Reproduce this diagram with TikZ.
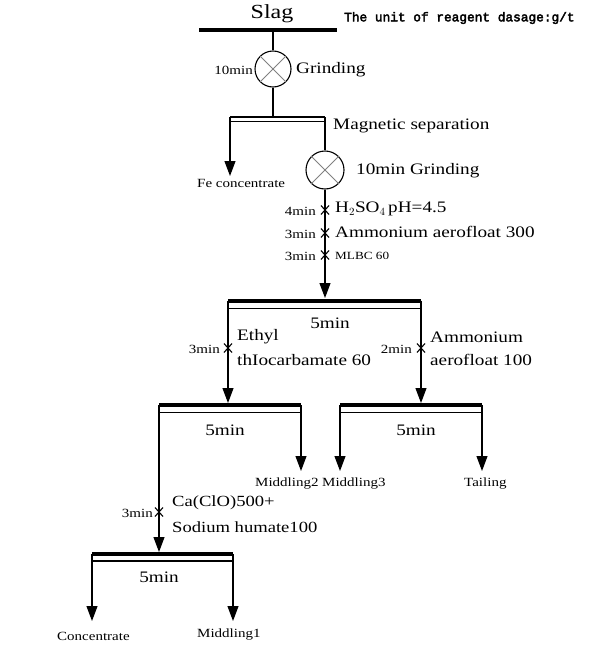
\documentclass[tikz,border=0pt]{standalone}
\usepackage{fontspec}
\setmainfont{Liberation Serif}[FakeStretch=1.2]
\newfontfamily\monob{Liberation Mono}[FakeBold=3]
\usetikzlibrary{arrows.meta}
\tikzset{
  ln/.style={line width=1.1pt},
  bar/.style={line width=4pt},
  arr/.style={line width=1.1pt,-{Triangle[width=11pt,length=15pt]}},
  big/.style={font=\fontsize{16}{18}\selectfont,inner sep=0pt},
  med/.style={font=\fontsize{15.5}{18}\selectfont,inner sep=0pt},
  sm/.style={font=\fontsize{12.5}{14}\selectfont,inner sep=0pt},
  tiny/.style={font=\fontsize{11}{13}\selectfont,inner sep=0pt},
  mill/.style={circle,draw,line width=1.1pt,minimum size=36pt,inner sep=0pt},
  xm/.pic={\draw[line width=1.1pt] (-4,-4.5)--(4,4.5) (-4,4.5)--(4,-4.5);}
}
\newcommand{\millx}[1]{\draw[line width=0.8pt,gray] (#1.north west)--(#1.south east) (#1.north east)--(#1.south west);}
\begin{document}
\begin{tikzpicture}[x=1pt,y=-1pt]
\useasboundingbox (0,0) rectangle (590,645);
% top
\coordinate (sL) at (199,30); \coordinate (sR) at (337,30); \coordinate (sM) at (273,30);
\draw[bar] (sL)--(sR);
\node[font=\fontsize{20}{22}\selectfont,inner sep=0pt] (slag) at (272,14) {Slag};
\node[anchor=west,inner sep=0pt,font=\monob\fontsize{12.8}{14}\selectfont] (unit) at (344,18) {The unit of reagent dasage:g/t};
% grinding 1
\node[mill] (g1) at (273,69) {}; \millx{g1}
\node[sm,anchor=east] (t10a) at (253,70) {10min};
\node[big,anchor=west] (gr1) at (296,70) {Grinding};
% magnetic separation
\coordinate (mL) at (230,117); \coordinate (mR) at (325,117); \coordinate (mM) at (273,117);
\coordinate (mL2) at (230,121.5); \coordinate (mR2) at (325,121.5);
\draw[ln] (sM)--(g1.north);
\draw[ln] (g1.south)--(mM);
\draw[line width=1.3pt] (mL)--(mR);
\draw[ln] (mL2)--(mR2);
\draw[ln] (mL)--(mL2); \draw[ln] (mR)--(mR2);
\node[big,anchor=west] (mag) at (333,126) {Magnetic separation};
\coordinate (fe) at (230,176);
\draw[arr] (mL2)--(fe);
\node[sm,anchor=west] (fec) at (197,183) {Fe concentrate};
% grinding 2
\node[mill,minimum size=38pt] (g2) at (325,170) {}; \millx{g2}
\draw[ln] (mR2)--(g2.north);
\node[big,anchor=west] (gr2) at (356,171) {10min Grinding};
% reagents
\coordinate (f1top) at (325,298);
\draw[arr] (g2.south)--(f1top);
\pic at (325,210) {xm}; \pic at (325,233) {xm}; \pic at (325,255) {xm};
\node[sm,anchor=east] (t4) at (316,211) {4min};
\node[big,anchor=west] (h2so4) at (335,209) {H$_2$SO$_4$\,pH=4.5};
\node[sm,anchor=east] (t3a) at (316,234) {3min};
\node[big,anchor=west] (amm300) at (335,232) {Ammonium aerofloat 300};
\node[sm,anchor=east] (t3b) at (316,256) {3min};
\node[tiny,anchor=west] (mlbc) at (335,256) {MLBC 60};
% flotation 1
\coordinate (b1L) at (228,300.5); \coordinate (b1R) at (421,300.5);
\coordinate (b1Lb) at (228,308.5); \coordinate (b1Rb) at (421,308.5);
\draw[bar] (b1L)--(b1R);
\draw[ln] (b1Lb)--(b1Rb);
\node[big] (m5a) at (330,323) {5min};
\coordinate (b2top) at (228,403); \coordinate (b3top) at (421,403);
\draw[arr] (b1L)--(b2top);
\draw[arr] (b1R)--(b3top);
\pic at (228,348) {xm}; \pic at (421,348) {xm};
\node[sm,anchor=east] (t3c) at (220,349) {3min};
\node[big,anchor=west] (eth1) at (237,337) {Ethyl};
\node[big,anchor=west] (eth2) at (237,360) {thIocarbamate 60};
\node[sm,anchor=east] (t2) at (412,349) {2min};
\node[big,anchor=west] (amm1) at (430,337) {Ammonium};
\node[big,anchor=west] (amm2) at (430,360) {aerofloat 100};
% flotation 2 (left)
\coordinate (b2L) at (159,405); \coordinate (b2R) at (301,405);
\coordinate (b2Lb) at (159,412.5); \coordinate (b2Rb) at (301,412.5);
\draw[bar] (b2L)--(b2R);
\draw[ln] (b2Lb)--(b2Rb);
\node[big] (m5b) at (225,430) {5min};
\coordinate (mid2) at (301,471);
\draw[arr] (b2R)--(mid2);
\node[sm,anchor=west] (mid2t) at (255,484) {Middling2};
% flotation 3 (right)
\coordinate (b3L) at (340,405); \coordinate (b3R) at (482,405);
\coordinate (b3Lb) at (340,412.5); \coordinate (b3Rb) at (482,412.5);
\draw[bar] (b3L)--(b3R);
\draw[ln] (b3Lb)--(b3Rb);
\node[big] (m5c) at (416,430) {5min};
\coordinate (mid3) at (340,471); \coordinate (tail) at (482,471);
\draw[arr] (b3L)--(mid3);
\draw[arr] (b3R)--(tail);
\node[sm,anchor=west] (mid3t) at (322,484) {Middling3};
\node[sm,anchor=west] (tailt) at (464,484) {Tailing};
% flotation 4 (bottom)
\coordinate (b4top) at (159,552);
\draw[arr] (b2L)--(b4top);
\pic at (159,512) {xm};
\node[sm,anchor=east] (t3d) at (153,513) {3min};
\node[med,anchor=west] (ca) at (172,503) {Ca(ClO)500+};
\node[med,anchor=west] (sod) at (172,527) {Sodium humate100};
\coordinate (b4L) at (92,554); \coordinate (b4R) at (233,554);
\coordinate (b4Lb) at (92,561); \coordinate (b4Rb) at (233,561);
\draw[bar] (b4L)--(b4R);
\draw[ln] (b4Lb)--(b4Rb);
\node[big] (m5d) at (159,577) {5min};
\coordinate (conc) at (92,621); \coordinate (mid1) at (233,621);
\draw[arr] (b4L)--(conc);
\draw[arr] (b4R)--(mid1);
\node[sm,anchor=west] (conct) at (57,636) {Concentrate};
\node[sm,anchor=west] (mid1t) at (197,635) {Middling1};
\end{tikzpicture}
\end{document}
